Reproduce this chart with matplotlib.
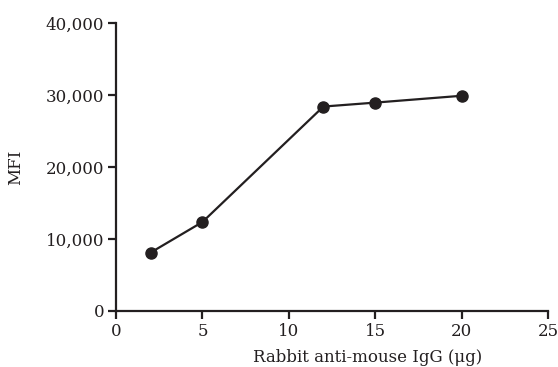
import matplotlib
matplotlib.use("Agg")
import matplotlib.pyplot as plt
from matplotlib.ticker import FuncFormatter

# data
igg_ug = [2, 5, 12, 15, 20]
mfi = [8100, 12350, 28400, 28950, 29900]

x_ticks = [0, 5, 10, 15, 20, 25]
y_ticks = [0, 10000, 20000, 30000, 40000]

ink = '#231f20'
plt.rcParams['font.family'] = ['DejaVu Serif']

fig = plt.figure(figsize=(5.58, 3.67), dpi=100)
fig.patch.set_facecolor('white')
ax = fig.add_axes([0.208, 0.153, 0.774, 0.784])

ax.plot(igg_ug, mfi, '-o', color=ink, linewidth=1.6, markersize=8,
        clip_on=False)

ax.set_xlim(0, 25)
ax.set_ylim(0, 40000)
ax.set_xticks(x_ticks)
ax.set_yticks(y_ticks)
ax.yaxis.set_major_formatter(FuncFormatter(lambda v, p: f'{int(v):,}'))

for side in ('top', 'right'):
    ax.spines[side].set_visible(False)
for side in ('left', 'bottom'):
    ax.spines[side].set_linewidth(1.6)
    ax.spines[side].set_color(ink)

ax.tick_params(axis='both', direction='out', length=5.5, width=1.6,
               color=ink, labelcolor=ink, labelsize=12, pad=3)

ax.set_xlabel('Rabbit anti-mouse IgG (\u03bcg)', fontsize=12, color=ink)
ax.set_ylabel('MFI', fontsize=12, color=ink)
# label sits a bit right of centre in the original
ax.xaxis.set_label_coords(0.583, -0.133)
ax.yaxis.set_label_coords(-0.212, 0.5)

fig.savefig('out.png', dpi=100, facecolor='white')
